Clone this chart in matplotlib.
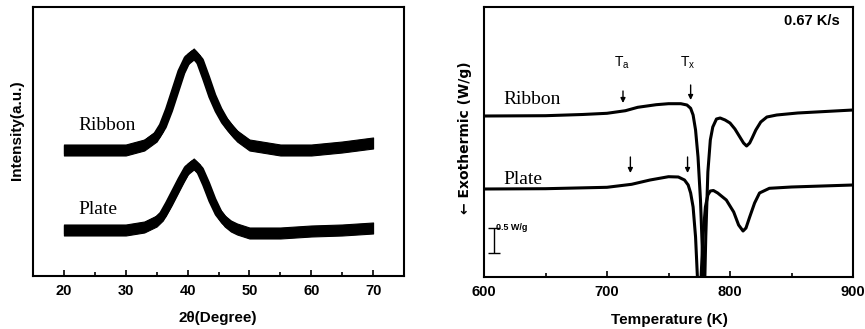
import numpy as np
import matplotlib
matplotlib.use("Agg")
import matplotlib.pyplot as plt

# ---------------- data ----------------
# XRD (left): 2theta vs intensity (arbitrary units, offset traces)
xrd_2theta = [20, 25, 30, 33, 35, 36, 37, 38, 39, 40, 41, 42, 43, 44, 45, 46, 47, 48, 50, 55, 60, 65, 70]
xrd_ribbon = [126, 126, 126, 131, 140, 150, 166, 185, 204, 217, 222, 215, 198, 180, 166, 155, 147, 140, 131, 126, 126, 129, 133]
xrd_plate = [46, 46, 46, 49, 55, 61, 72, 84, 96, 107, 112, 106, 92, 76, 63, 55, 50, 47, 43, 43, 45, 46, 48]

# DSC (right): temperature vs heat flow (arbitrary, offset traces)
dsc_T_ribbon = [600, 650, 680, 700, 715, 725, 740, 750, 760, 765, 768, 770, 772, 774, 776, 777, 778, 779,
                780.3, 782, 784, 786, 789, 792, 796, 800, 804, 808, 811, 813.5, 816, 818, 821, 825, 830, 838, 855, 900]
dsc_ribbon = [161, 161.3, 162.5, 163.7, 166.3, 169.7, 172.3, 173.3, 173.3, 172, 168.7, 162, 147, 120, 77, 44, 10, -30,
              40, 105, 137, 150, 158, 159, 157, 154, 148, 140, 134, 131, 134, 139, 147, 155, 160, 162, 164, 167]
dsc_T_plate = [600, 650, 700, 720, 735, 750, 758, 763, 766, 768, 770, 772, 773.5, 775, 776.5, 778, 780, 782,
               784, 786.5, 790, 797, 803, 807, 810.6, 813, 816, 820, 824, 832, 850, 875, 900]
dsc_plate = [88, 88.3, 89.7, 92.7, 97, 100.3, 100, 97, 92, 84, 70, 40, 0, -40, 0, 40, 70, 82,
             86, 86.5, 84, 77, 65, 52, 46, 49, 60, 74, 84, 88.7, 90, 91, 92]

# annotation positions (data units)
ta_T = [713, 719]
tx_T = [768, 765.5]

W, H = 865, 329
fig = plt.figure(figsize=(W / 100, H / 100), dpi=100)
axL = fig.add_axes([33 / W, 53 / H, 371 / W, 269 / H])
axR = fig.add_axes([484 / W, 52 / H, 369 / W, 270 / H])

tickfont = dict(family="Liberation Sans", weight="bold", size=10.5)
labfont = dict(family="Liberation Sans", weight="bold", size=11)
serif = dict(family="Liberation Serif", size=14)

for ax in (axL, axR):
    for s in ax.spines.values():
        s.set_linewidth(1.5)
    ax.tick_params(axis="x", which="both", direction="in", top=False, width=1.2, pad=6)
    ax.tick_params(axis="x", which="major", length=4)
    ax.tick_params(axis="x", which="minor", length=3)
    ax.set_yticks([])

# ---- left panel ----
band = 5.5
xr = np.array(xrd_2theta, float)
for ys in (xrd_ribbon, xrd_plate):
    y = np.array(ys, float)
    axL.fill_between(xr, y - band, y + band, color="black", lw=0.8, edgecolor="black")
    axL.plot(xr, y, color="black", lw=6, solid_joinstyle="round", solid_capstyle="butt")
axL.set_xlim(15, 75)
axL.set_ylim(0, 269)
axL.set_xticks([20, 30, 40, 50, 60, 70])
axL.set_xticks([25, 35, 45, 55, 65], minor=True)
axL.set_xticklabels([str(v) for v in [20, 30, 40, 50, 60, 70]], fontdict=tickfont)
axL.text(22.3, 151, "Ribbon", ha="left", va="center", **serif)
axL.text(22.3, 66, "Plate", ha="left", va="center", **serif)
fig.text(218 / W, 1 - 318 / H, "2θ(Degree)", ha="center", va="center", **labfont)
fig.text(17 / W, 1 - 130 / H, "Intensity(a.u.)", ha="center", va="center", rotation=90, **labfont)

# ---- right panel ----
axR.plot(dsc_T_ribbon, dsc_ribbon, color="black", lw=2.2, solid_joinstyle="round")
axR.plot(dsc_T_plate, dsc_plate, color="black", lw=2.2, solid_joinstyle="round")
axR.set_xlim(600, 900)
axR.set_ylim(0, 270)
axR.set_xticks([600, 700, 800, 900])
axR.set_xticks([650, 750, 850], minor=True)
axR.set_xticklabels(["600", "700", "800", "900"], fontdict=tickfont)

arrow = dict(arrowstyle="-|>", lw=1.0, color="black", mutation_scale=7, shrinkA=0, shrinkB=0)
axR.annotate("", xy=(ta_T[0], 174), xytext=(ta_T[0], 186), arrowprops=arrow)
axR.annotate("", xy=(tx_T[0], 177), xytext=(tx_T[0], 192), arrowprops=arrow)
axR.annotate("", xy=(ta_T[1], 104), xytext=(ta_T[1], 120), arrowprops=arrow)
axR.annotate("", xy=(tx_T[1], 104), xytext=(tx_T[1], 120), arrowprops=arrow)
axR.text(ta_T[0] - 1, 214, r"T$_\mathregular{a}$", ha="center", va="center", family="Liberation Sans", size=10)
axR.text(tx_T[0] - 2, 214, r"T$_\mathregular{x}$", ha="center", va="center", family="Liberation Sans", size=10)

axR.text(616, 177, "Ribbon", ha="left", va="center", **serif)
axR.text(616, 97, "Plate", ha="left", va="center", **serif)
axR.text(889, 256, "0.67 K/s", ha="right", va="center", family="Liberation Sans", weight="bold", size=10.5)

# scale bar 0.5 W/g
axR.errorbar([608], [36.5], yerr=[[12.5], [12.5]], color="black", lw=1.0, capsize=4, capthick=1.0)
axR.text(610, 49, "0.5 W/g", ha="left", va="center", family="Liberation Sans", weight="bold", size=6.5)

fig.text(669 / W, 1 - 320 / H, "Temperature (K)", ha="center", va="center", **labfont)
fig.text(465 / W, 1 - 138 / H, "← Exothermic (W/g)", ha="center", va="center", rotation=90,
         family="DejaVu Sans", weight="bold", size=10)

fig.savefig("out.png", dpi=100)
